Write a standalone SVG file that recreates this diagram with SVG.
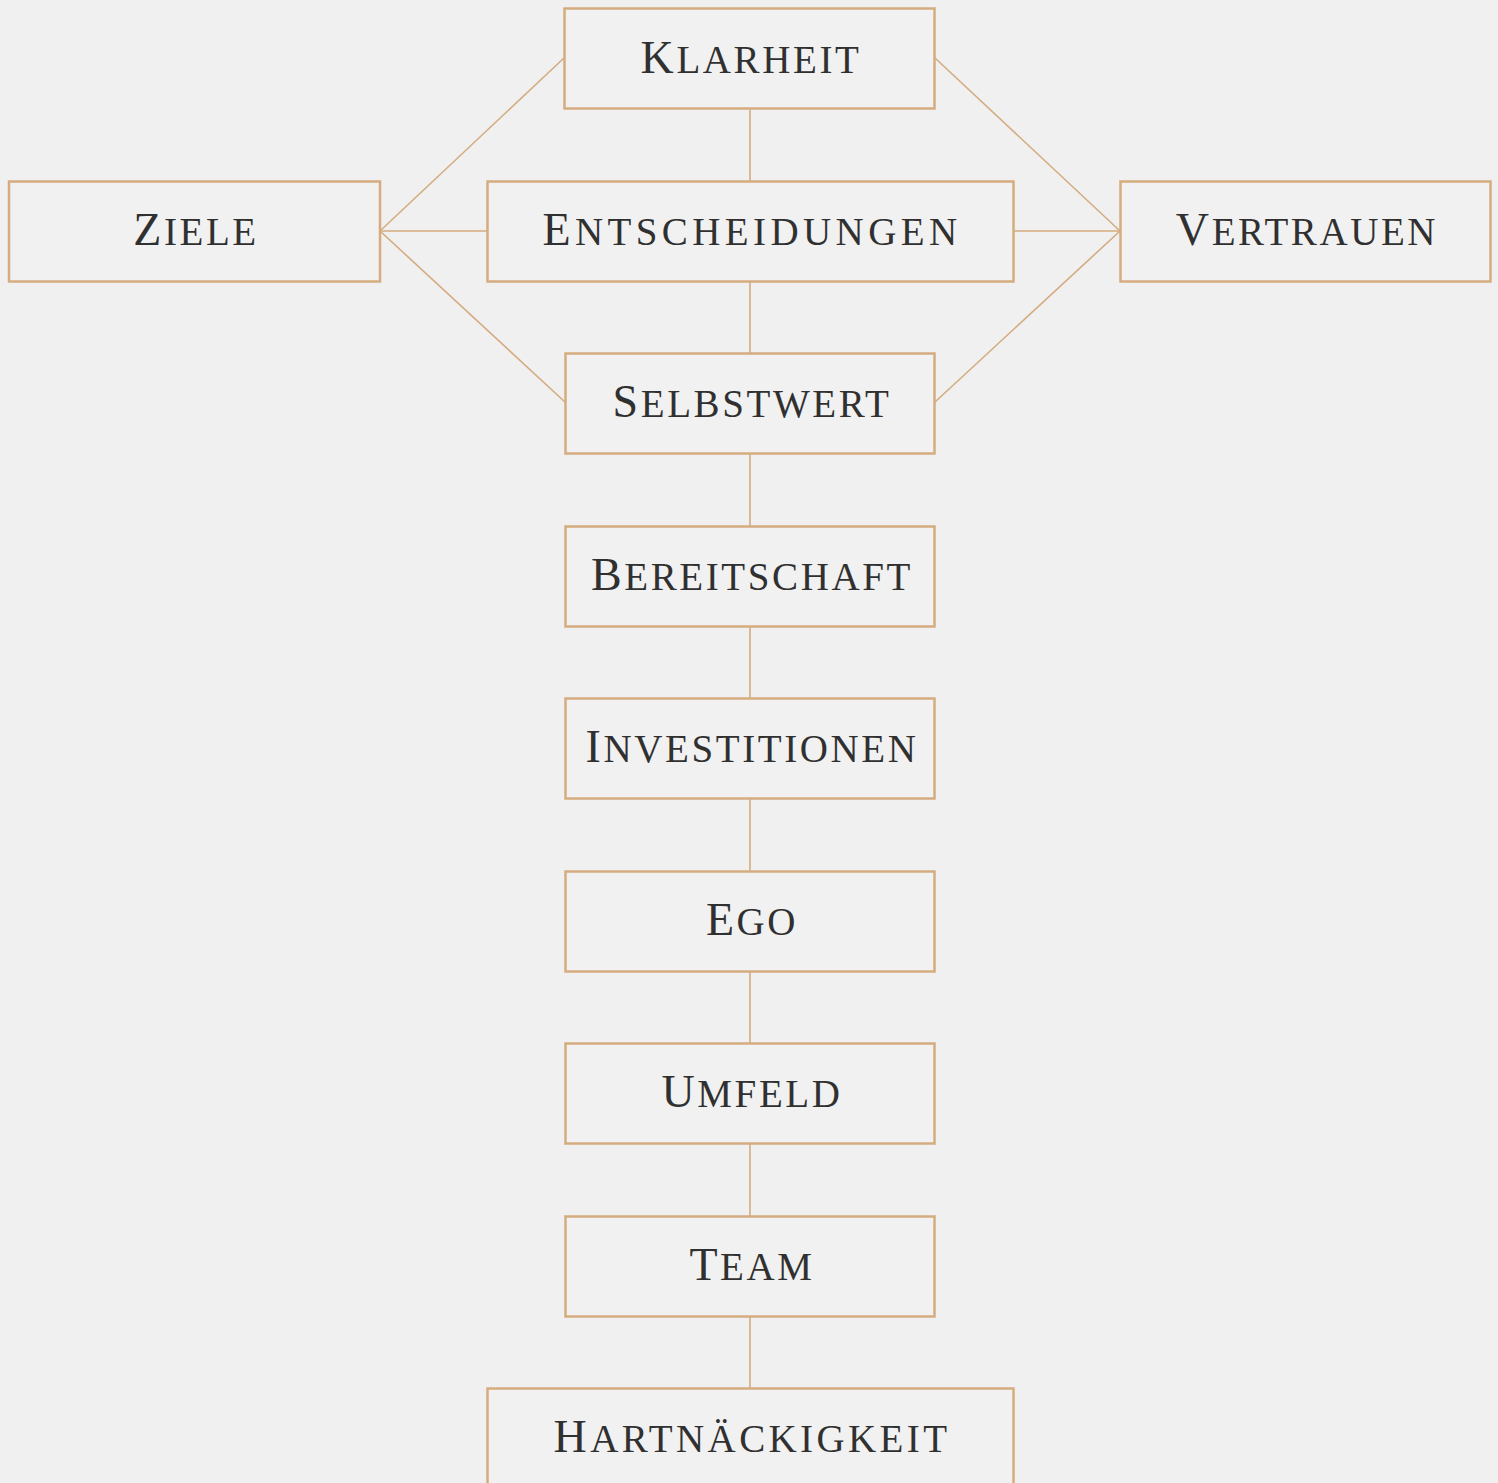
<svg xmlns="http://www.w3.org/2000/svg" width="1498" height="1483" viewBox="0 0 1498 1483">
<style>
.box{fill:#f1f1f1;stroke:#d4ac80;stroke-width:2.5}
.edge{stroke:#d4ac80;stroke-width:1.6;fill:none}
.lbl{font-family:"Liberation Serif",serif;font-size:39px;fill:#303030;text-anchor:middle;letter-spacing:2.6px}
.cap{font-size:46px}
.wide{letter-spacing:4.4px}
.mid{letter-spacing:3.4px}
</style>
<rect width="1498" height="1483" fill="#f0f0f0"/>
<g id="connectors">
<line class="edge" x1="380" y1="231" x2="564" y2="58"/>
<line class="edge" x1="380" y1="231" x2="487" y2="231"/>
<line class="edge" x1="380" y1="231" x2="565" y2="402"/>
<line class="edge" x1="1120" y1="231" x2="935" y2="58"/>
<line class="edge" x1="1120" y1="231" x2="1013" y2="231"/>
<line class="edge" x1="1120" y1="231" x2="935" y2="402"/>
<line class="edge" x1="750" y1="110" x2="750" y2="181"/>
<line class="edge" x1="750" y1="281" x2="750" y2="353"/>
<line class="edge" x1="750" y1="453" x2="750" y2="526"/>
<line class="edge" x1="750" y1="626" x2="750" y2="698"/>
<line class="edge" x1="750" y1="798" x2="750" y2="871"/>
<line class="edge" x1="750" y1="971" x2="750" y2="1043"/>
<line class="edge" x1="750" y1="1143" x2="750" y2="1216"/>
<line class="edge" x1="750" y1="1316" x2="750" y2="1388"/>
</g>
<g id="klarheit"><rect class="box" x="564.5" y="8.5" width="370" height="100"/><text class="lbl" x="751" y="73"><tspan class="cap">K</tspan>LARHEIT</text></g>
<g id="ziele"><rect class="box" x="9" y="181.5" width="371" height="100"/><text class="lbl" x="196" y="245"><tspan class="cap">Z</tspan>IELE</text></g>
<g id="entscheidungen"><rect class="box" x="487.5" y="181.5" width="526" height="100"/><text class="lbl wide" x="752" y="245"><tspan class="cap">E</tspan>NTSCHEIDUNGEN</text></g>
<g id="vertrauen"><rect class="box" x="1120.5" y="181.5" width="370" height="100"/><text class="lbl" x="1307" y="245"><tspan class="cap">V</tspan>ERTRAUEN</text></g>
<g id="selbstwert"><rect class="box" x="565.5" y="353.5" width="369" height="100"/><text class="lbl" x="752" y="417"><tspan class="cap">S</tspan>ELBSTWERT</text></g>
<g id="bereitschaft"><rect class="box" x="565.5" y="526.5" width="369" height="100"/><text class="lbl" x="752" y="590"><tspan class="cap">B</tspan>EREITSCHAFT</text></g>
<g id="investitionen"><rect class="box" x="565.5" y="698.5" width="369" height="100"/><text class="lbl" x="752" y="762"><tspan class="cap">I</tspan>NVESTITIONEN</text></g>
<g id="ego"><rect class="box" x="565.5" y="871.5" width="369" height="100"/><text class="lbl" x="752" y="935"><tspan class="cap">E</tspan>GO</text></g>
<g id="umfeld"><rect class="box" x="565.5" y="1043.5" width="369" height="100"/><text class="lbl" x="752" y="1107"><tspan class="cap">U</tspan>MFELD</text></g>
<g id="team"><rect class="box" x="565.5" y="1216.5" width="369" height="100"/><text class="lbl" x="752" y="1280"><tspan class="cap">T</tspan>EAM</text></g>
<g id="hartnaeckigkeit"><rect class="box" x="487.5" y="1388.5" width="526" height="100"/><text class="lbl mid" x="752" y="1452"><tspan class="cap">H</tspan>ARTNÄCKIGKEIT</text></g>
</svg>
